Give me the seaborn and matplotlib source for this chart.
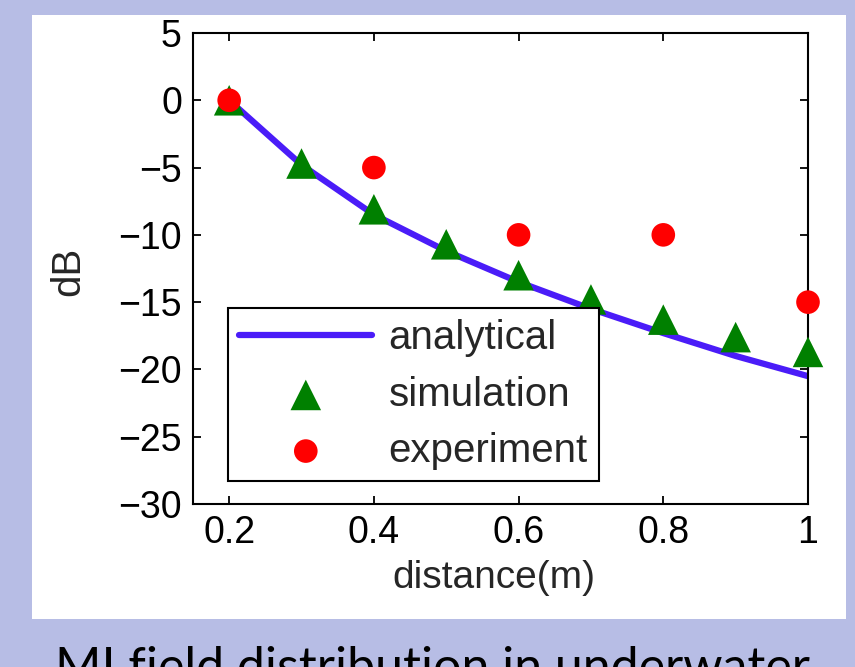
import matplotlib
matplotlib.use("Agg")
import matplotlib.pyplot as plt
import seaborn as sns
import pandas as pd
from matplotlib.patches import Rectangle

# values
distance = [0.2, 0.3, 0.4, 0.5, 0.6, 0.7, 0.8, 0.9, 1.0]
analytical = [0.0, -4.8, -8.5, -11.2, -13.5, -15.5, -17.3, -19.0, -20.5]
simulation = [0.0, -4.7, -8.1, -10.7, -13.0, -14.8, -16.3, -17.6, -18.7]
exp_distance = [0.2, 0.4, 0.6, 0.8, 1.0]
experiment = [0.0, -5.0, -10.0, -10.0, -15.0]

xticks = [0.2, 0.4, 0.6, 0.8, 1.0]
xtick_labels = ["0.2", "0.4", "0.6", "0.8", "1"]
yticks = [5, 0, -5, -10, -15, -20, -25, -30]

sns.set_style("ticks")
plt.rcParams['font.family'] = ['Liberation Sans', 'DejaVu Sans']

df = pd.DataFrame({"distance": distance, "analytical": analytical, "simulation": simulation})
df_exp = pd.DataFrame({"distance": exp_distance, "experiment": experiment})

fig = plt.figure(figsize=(8.55, 6.67), dpi=100, facecolor="#b7bde5")
# white panel behind the plot
fig.patches.append(Rectangle((32 / 855, 1 - 619 / 667), (846 - 32) / 855, (619 - 15) / 667,
                             transform=fig.transFigure, facecolor="white", edgecolor="none", zorder=-10))

ax = fig.add_axes([193 / 855, 1 - 504 / 667, (808 - 193) / 855, (504 - 33) / 667])
ax.set_facecolor("white")

sns.lineplot(data=df, x="distance", y="analytical", ax=ax, color="#4a1cf8", linewidth=4.5,
             label="analytical", zorder=2)
sns.scatterplot(data=df, x="distance", y="simulation", ax=ax, marker="^", color="#008000",
                s=22 ** 2, edgecolor="none", label="simulation", zorder=3, clip_on=False)
sns.scatterplot(data=df_exp, x="distance", y="experiment", ax=ax, marker="o", color="#ff0000",
                s=17 ** 2, edgecolor="none", label="experiment", zorder=4, clip_on=False)

ax.set_xlim(0.15, 1.0)
ax.set_ylim(-30, 5)
ax.set_xticks(xticks)
ax.set_xticklabels(xtick_labels)
ax.set_yticks(yticks)
ax.set_yticklabels([str(v).replace("-", "\u2212") for v in yticks])
ax.tick_params(direction="in", length=6, width=1.3, labelsize=27, pad=8,
               top=True, right=True, colors="black")
for s in ax.spines.values():
    s.set_linewidth(1.5)
    s.set_color("black")

ax.set_xlabel("distance(m)", fontsize=28)
ax.set_ylabel("dB", fontsize=29)
ax.xaxis.set_label_coords(0.49, -0.118)
ax.yaxis.set_label_coords(-0.172, 0.493)

leg = ax.legend(loc="lower left", bbox_to_anchor=(0.057, 0.049), fontsize=29, frameon=True,
                fancybox=False, edgecolor="black", handlelength=3.3, handletextpad=0.4,
                borderpad=0.28, labelspacing=0.45, markerscale=1.0, borderaxespad=0)
leg.get_frame().set_linewidth(1.5)
leg.get_frame().set_alpha(1)

fig.text(55 / 855, 1 - 646 / 667, "MI field distribution in underwater", fontsize=36,
         family=["Lato", "DejaVu Sans"], va="top", ha="left", color="black")

fig.savefig("out.png", dpi=100, facecolor=fig.get_facecolor())
